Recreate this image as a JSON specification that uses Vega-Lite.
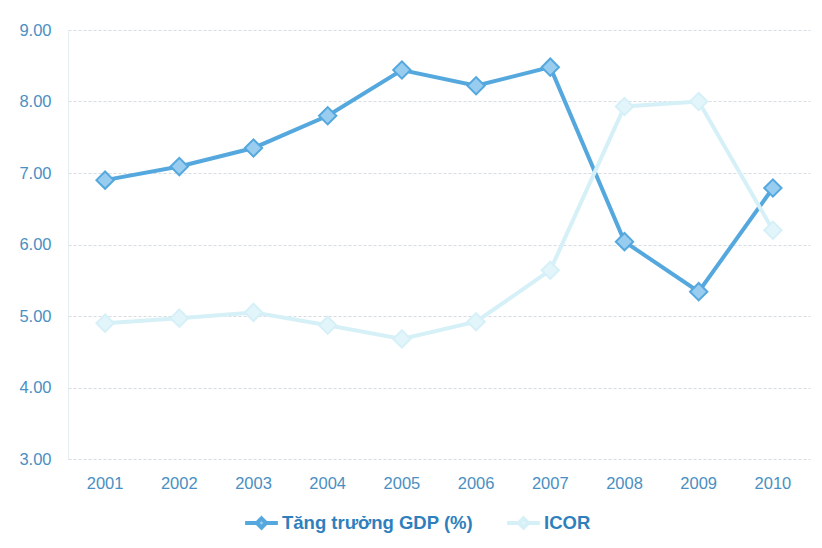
{
  "$schema": "https://vega.github.io/schema/vega-lite/v6.json",
  "autosize": {"type": "none"},
  "width": 742,
  "height": 429,
  "padding": {"left": 68, "top": 30, "right": 12, "bottom": 89},
  "background": "white",
  "data": {"values": [
    {"year": "2001", "series": "Tăng trưởng GDP (%)", "value": 6.90},
    {"year": "2002", "series": "Tăng trưởng GDP (%)", "value": 7.09},
    {"year": "2003", "series": "Tăng trưởng GDP (%)", "value": 7.35},
    {"year": "2004", "series": "Tăng trưởng GDP (%)", "value": 7.80},
    {"year": "2005", "series": "Tăng trưởng GDP (%)", "value": 8.44},
    {"year": "2006", "series": "Tăng trưởng GDP (%)", "value": 8.22},
    {"year": "2007", "series": "Tăng trưởng GDP (%)", "value": 8.48},
    {"year": "2008", "series": "Tăng trưởng GDP (%)", "value": 6.04},
    {"year": "2009", "series": "Tăng trưởng GDP (%)", "value": 5.34},
    {"year": "2010", "series": "Tăng trưởng GDP (%)", "value": 6.79},
    {"year": "2001", "series": "ICOR", "value": 4.90},
    {"year": "2002", "series": "ICOR", "value": 4.97},
    {"year": "2003", "series": "ICOR", "value": 5.05},
    {"year": "2004", "series": "ICOR", "value": 4.87},
    {"year": "2005", "series": "ICOR", "value": 4.68},
    {"year": "2006", "series": "ICOR", "value": 4.92},
    {"year": "2007", "series": "ICOR", "value": 5.64},
    {"year": "2008", "series": "ICOR", "value": 7.93},
    {"year": "2009", "series": "ICOR", "value": 8.00},
    {"year": "2010", "series": "ICOR", "value": 6.20}
  ]},
  "config": {
    "view": {"stroke": null},
    "font": "Liberation Sans"
  },
  "encoding": {
    "x": {
      "field": "year", "type": "ordinal",
      "scale": {"type": "band", "paddingInner": 0, "paddingOuter": 0},
      "axis": {
        "title": null, "labelAngle": 0, "domain": false, "ticks": false,
        "labelFontSize": 16.5, "labelColor": "#4a8fc2", "labelPadding": 16
      }
    },
    "y": {
      "field": "value", "type": "quantitative",
      "scale": {"domain": [3, 9], "nice": false, "zero": false},
      "axis": {
        "title": null, "values": [3, 4, 5, 6, 7, 8, 9], "format": ".2f",
        "domain": true, "domainColor": "#e6eef2", "ticks": false,
        "labelFontSize": 16.5, "labelColor": "#4a8fc2", "labelPadding": 17,
        "grid": true, "gridColor": "#d6dde2", "gridDash": [3, 2], "gridWidth": 1
      }
    }
  },
  "layer": [
    {
      "mark": {"type": "line", "strokeWidth": 4},
      "encoding": {
        "color": {
          "field": "series", "type": "nominal",
          "scale": {"domain": ["Tăng trưởng GDP (%)", "ICOR"], "range": ["#55a8de", "#d6f0f7"]},
          "legend": {
            "title": null, "orient": "none", "direction": "horizontal",
            "legendX": 181, "legendY": 480,
            "labelFontSize": 18.5, "labelFontWeight": "bold", "labelColor": "#2f7fbd", "labelLimit": 400,
            "symbolType": "M-1.6,0L-0.45,0M0.45,0L1.6,0M0,-0.45L0.45,0L0,0.45L-0.45,0Z",
            "symbolSize": 420, "symbolStrokeWidth": 4, "symbolFillColor": "#9fd2f0",
            "columnPadding": 26, "labelOffset": 8
          }
        }
      }
    },
    {
      "mark": {"type": "point", "shape": "diamond", "filled": true, "size": 300, "opacity": 1, "strokeWidth": 2},
      "encoding": {
        "fill": {
          "field": "series", "type": "nominal",
          "scale": {"domain": ["Tăng trưởng GDP (%)", "ICOR"], "range": ["#98cdef", "#e2f5fa"]},
          "legend": null
        },
        "stroke": {
          "field": "series", "type": "nominal",
          "scale": {"domain": ["Tăng trưởng GDP (%)", "ICOR"], "range": ["#55a8de", "#d6f0f7"]},
          "legend": null
        }
      }
    }
  ]
}
